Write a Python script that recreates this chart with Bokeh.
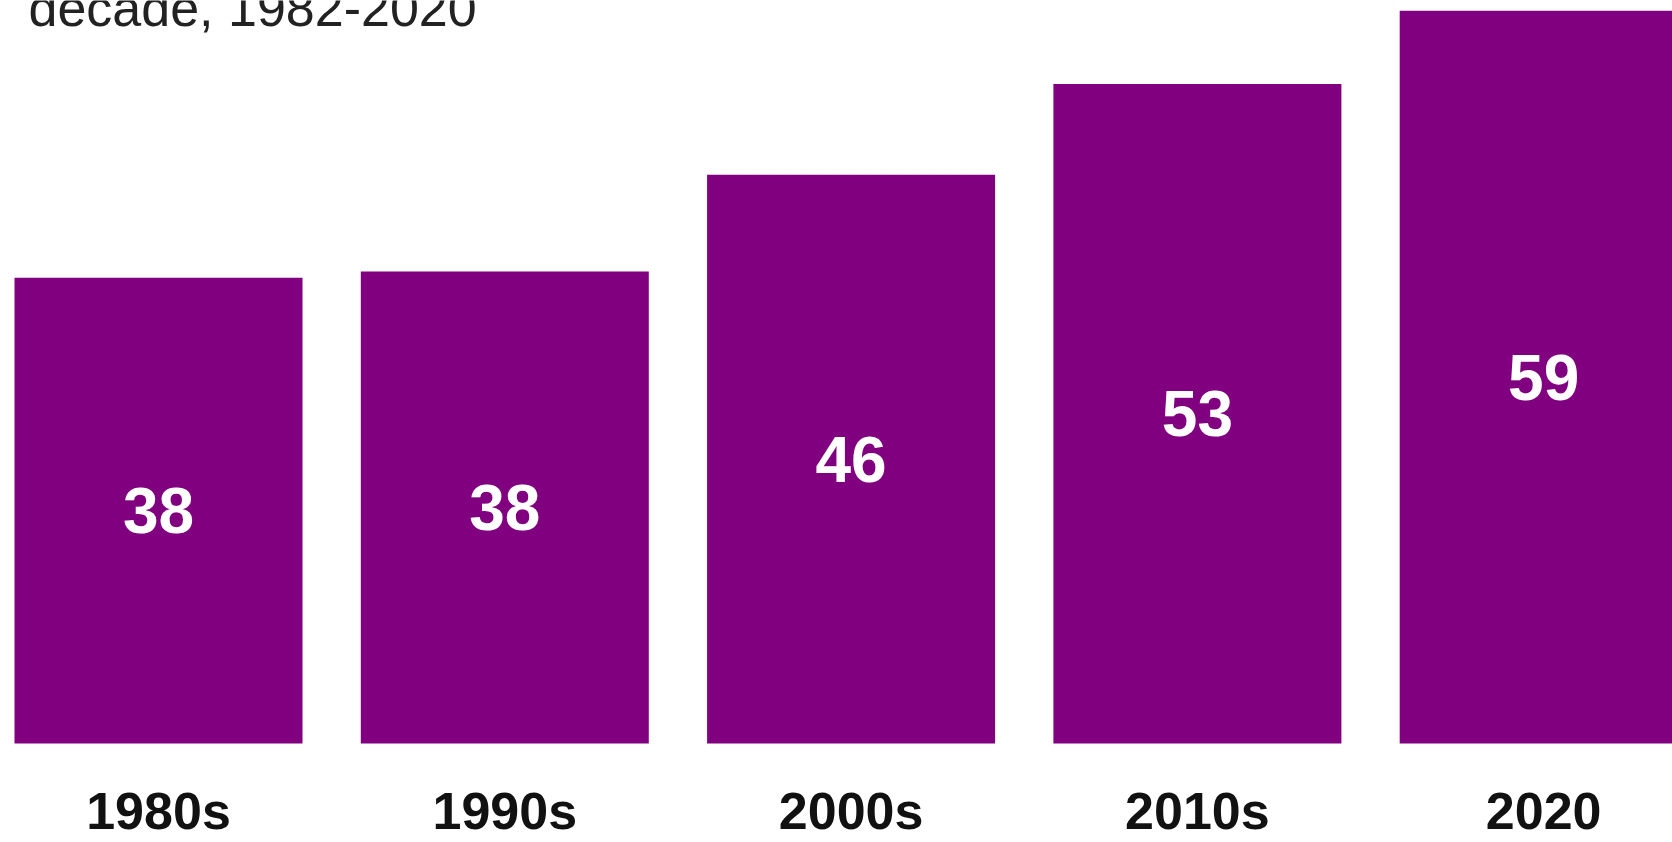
from bokeh.plotting import figure
from bokeh.models import Range1d, ColumnDataSource, Label
from bokeh.core.properties import value
from bokeh.embed import file_html
from bokeh.resources import INLINE

# Data
categories = ["1980s", "1990s", "2000s", "2010s", "2020"]
bar_values = [37.5, 38.0, 45.8, 53.1, 59.0]
value_labels = ["38", "38", "46", "53", "59"]
title_text = "decade, 1982-2020"

W, H = 1672, 842
PITCH = 346.3          # px per category
SCALE = 12.42          # px per unit
BASE_PX = 743          # canvas y of zero line
FIRST_PX = 158         # canvas x of first bar centre

x_start = -FIRST_PX / PITCH
x_end = x_start + W / PITCH
y_top = BASE_PX / SCALE
y_bot = -(H - BASE_PX) / SCALE

xs = list(range(len(categories)))
src = ColumnDataSource(dict(
    x=xs,
    top=bar_values,
    mid=[v / 2 for v in bar_values],
    lab=value_labels,
    cat=categories,
    cat_y=[-(810 - BASE_PX) / SCALE] * len(categories),
))

p = figure(width=W, height=H, output_backend="svg", toolbar_location=None,
           x_range=Range1d(x_start, x_end), y_range=Range1d(y_bot, y_top),
           min_border=0, min_border_left=0, min_border_right=0,
           min_border_top=0, min_border_bottom=0)
p.axis.visible = False
p.grid.visible = False
p.outline_line_color = None
p.background_fill_color = "white"
p.border_fill_color = "white"

p.vbar(x="x", top="top", bottom=0, width=288 / PITCH, source=src,
       fill_color="#800080", line_color=None)

p.text(x="x", y="mid", text="lab", source=src,
       text_font=value("Liberation Sans"), text_font_size="64px",
       text_font_style="bold", text_color="white",
       text_align="center", text_baseline="middle")

p.text(x="x", y="cat_y", text="cat", source=src,
       text_font=value("Liberation Sans"), text_font_size="52px",
       text_font_style="bold", text_color="#111111",
       text_align="center", text_baseline="middle")

p.add_layout(Label(x=x_start + 28 / PITCH, y=(BASE_PX - 7) / SCALE,
                   text=title_text, text_font="Liberation Sans",
                   text_font_size="52px", text_color="#222222",
                   text_baseline="middle", text_align="left"))

open("out.html", "w").write(file_html(p, INLINE))
